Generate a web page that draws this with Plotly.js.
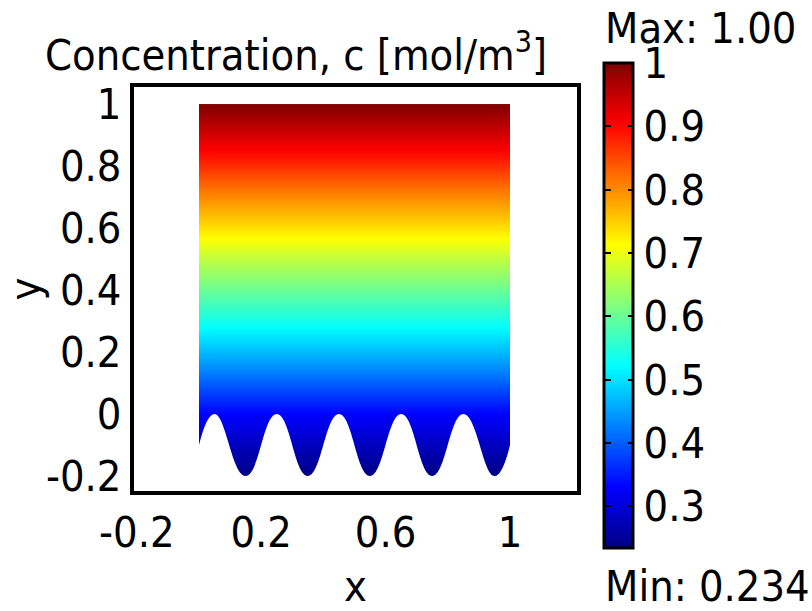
<!DOCTYPE html>
<html>
<head>
<meta charset="utf-8">
<script src="https://cdn.plot.ly/plotly-3.0.1.min.js"></script>
<style>html,body{margin:0;padding:0;background:#fff;}#chart{width:812px;height:611px;}</style>
</head>
<body>
<div id="chart"></div>
<script>
// Concentration read along y (horizontal layers of the field), x spans the domain 0..1
var domainX = [0, 1];
var levelsY = [-0.2, -0.1, 0, 0.1, 0.2, 0.3, 0.4, 0.5, 0.6, 0.7, 0.8, 0.9, 1.0];
var concentration = [0.234, 0.28, 0.33, 0.40, 0.47, 0.535, 0.60, 0.665, 0.735, 0.80, 0.87, 0.935, 1.0];
// Wavy lower boundary of the domain
var boundaryX = [0, 0.05, 0.15, 0.25, 0.35, 0.45, 0.55, 0.65, 0.75, 0.85, 0.95, 1.0];
var boundaryY = [-0.1, 0, -0.2, 0, -0.2, 0, -0.2, 0, -0.2, 0, -0.2, -0.1];
var cMin = 0.234, cMax = 1.0;
var xTicks = [-0.2, 0.2, 0.6, 1];
var xTickText = ['-0.2', '0.2', '0.6', '1'];
var yTicks = [-0.2, 0, 0.2, 0.4, 0.6, 0.8, 1];
var yTickText = ['-0.2', '0', '0.2', '0.4', '0.6', '0.8', '1'];
var cbTicks = [0.3, 0.4, 0.5, 0.6, 0.7, 0.8, 0.9, 1];
var cbTickText = ['0.3', '0.4', '0.5', '0.6', '0.7', '0.8', '0.9', '1'];

var FONT = 'DejaVu Sans Condensed, DejaVu Sans, sans-serif';
var FS = 43;
var jet = [[0,'#000083'],[0.125,'#0000ff'],[0.375,'#00ffff'],[0.625,'#ffff00'],[0.875,'#ff0000'],[1,'#800000']];
var clear = [[0,'rgba(0,0,0,0)'],[1,'rgba(0,0,0,0)']];

var z = concentration.map(function(c){ return [c, c]; });

// plot area in pixels
var L = 134, R = 577, T = 87, B = 491, W = R - L, H = B - T;
// colorbar geometry in pixels
var CB_X = 604, CB_TOP = 63, CB_LEN = 485, CB_THICK = 29;
var cbY = (B - (CB_TOP + CB_LEN / 2)) / H;

var field = {
  type: 'contour', x: domainX, y: levelsY, z: z,
  colorscale: jet, zmin: cMin, zmax: cMax, zauto: false,
  contours: {coloring: 'heatmap', showlines: false, start: cMin, end: cMax, size: 0.01},
  line: {width: 0},
  hoverinfo: 'skip',
  colorbar: {
    x: (CB_X - L) / W, xanchor: 'left', y: cbY, yanchor: 'middle',
    thickness: CB_THICK, thicknessmode: 'pixels',
    len: CB_LEN, lenmode: 'pixels',
    xpad: 0, ypad: 0,
    outlinewidth: 3, outlinecolor: '#000',
    tickmode: 'array', tickvals: cbTicks, ticktext: cbTickText,
    ticks: 'inside', ticklen: 6, tickwidth: 2, tickcolor: '#000',
    tickfont: {family: FONT, size: FS, color: '#000'}
  }
};
// transparent twin whose colour bar only supplies the tick marks on the bar's left edge
var twin = {
  type: 'heatmap', x: domainX, y: levelsY, z: z,
  colorscale: clear, zmin: cMin, zmax: cMax, zauto: false, hoverinfo: 'skip',
  colorbar: {
    x: (CB_X + 1 - L) / W, xanchor: 'left', y: cbY, yanchor: 'middle',
    thickness: 6, thicknessmode: 'pixels',
    len: CB_LEN, lenmode: 'pixels',
    xpad: 0, ypad: 0,
    outlinewidth: 0, bgcolor: 'rgba(0,0,0,0)',
    tickmode: 'array', tickvals: cbTicks, showticklabels: false,
    ticks: 'inside', ticklen: 6, tickwidth: 2, tickcolor: '#000'
  }
};
var base = {
  type: 'scatter', mode: 'lines', x: [boundaryX[0], boundaryX[boundaryX.length-1]],
  y: [-0.2, -0.2], line: {width: 0, color: '#fff'}, hoverinfo: 'skip', showlegend: false
};
var mask = {
  type: 'scatter', mode: 'lines', x: boundaryX, y: boundaryY,
  line: {shape: 'spline', smoothing: 1.3, width: 0, color: '#fff'},
  fill: 'tonexty', fillcolor: '#fff', hoverinfo: 'skip', showlegend: false
};

var axisCommon = {
  showline: true, mirror: true, linewidth: 4, linecolor: '#000',
  showgrid: false, zeroline: false, ticks: '',
  tickfont: {family: FONT, size: FS, color: '#000'},
  tickmode: 'array'
};

var layout = {
  width: 812, height: 611,
  margin: {l: L, r: 812 - R, t: T, b: 611 - B},
  paper_bgcolor: '#fff', plot_bgcolor: '#fff',
  showlegend: false,
  title: {text: 'Concentration, c [mol/m<sup>3</sup>]', font: {family: FONT, size: FS, color: '#000'},
          xref: 'container', yref: 'container', x: 45/812, xanchor: 'left', y: 1 - 55/611, yanchor: 'middle'},
  xaxis: Object.assign({}, axisCommon, {range: [-0.209, 1.2154], tickvals: xTicks, ticktext: xTickText,
          title: {text: 'x', font: {family: FONT, size: FS, color: '#000'}, standoff: 20}}),
  yaxis: Object.assign({}, axisCommon, {range: [-0.248, 1.055], tickvals: yTicks, ticktext: yTickText,
          title: {text: 'y', font: {family: FONT, size: FS, color: '#000'}, standoff: 8}}),
  annotations: [
    {text: 'Max: 1.00', xref: 'paper', yref: 'paper', x: (603 - L) / W, y: (B - 28) / H,
     xanchor: 'left', yanchor: 'middle', showarrow: false, font: {family: FONT, size: FS, color: '#000'}},
    {text: 'Min: 0.234', xref: 'paper', yref: 'paper', x: (603 - L) / W, y: (B - 586) / H,
     xanchor: 'left', yanchor: 'middle', showarrow: false, font: {family: FONT, size: FS, color: '#000'}}
  ]
};

Plotly.newPlot('chart', [field, twin, base, mask], layout, {displayModeBar: false, staticPlot: true});
</script>
</body>
</html>
